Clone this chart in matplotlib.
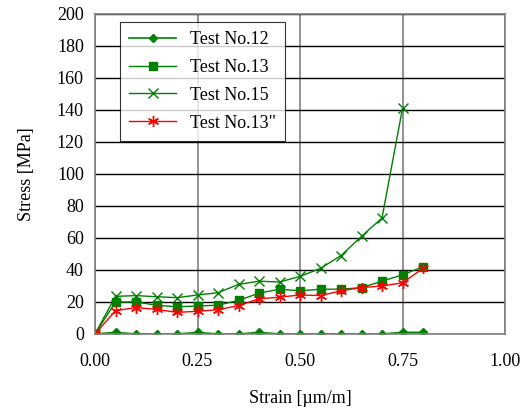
import matplotlib
matplotlib.use('Agg')
import matplotlib.pyplot as plt

plt.rcParams['font.family'] = ['Liberation Serif', 'DejaVu Serif']

strain = [0.00, 0.05, 0.10, 0.15, 0.20, 0.25, 0.30, 0.35, 0.40,
          0.45, 0.50, 0.55, 0.60, 0.65, 0.70, 0.75, 0.80]
test12 = [0, 1, 0, 0, 0, 1, 0, 0, 1, 0, 0, 0, 0, 0, 0, 1, 1]
test13 = [0, 20, 20, 18, 17, 17.5, 18, 21, 25.5, 28, 27, 28, 28, 29, 33, 37, 42]
strain15 = strain[:16]
test15 = [0, 23.5, 24, 23.3, 22.7, 24.4, 25.8, 31, 33, 32.5, 36, 41, 49, 61, 72.5, 141]
test13b = [0, 14.6, 16.5, 15.4, 13.5, 14.2, 15.2, 17.7, 22, 23, 24.4, 24, 27, 29, 30, 32, 41]

green = '#008000'
red = '#ff0000'

fig = plt.figure(figsize=(5.32, 4.16), dpi=100)
ax = fig.add_axes([95/532, 82/416, 410/532, 320/416])

ax.plot(strain, test12, '-D', color=green, ms=4.5, lw=1.2, label='Test No.12')
ax.plot(strain, test13, '-s', color=green, ms=6, lw=1, label='Test No.13')
ax.plot(strain15, test15, '-x', color=green, ms=7, mew=1, lw=1, label='Test No.15')
ax.plot(strain, test13b, '-', marker=(6, 2, 0), color=red, ms=8, mew=1, lw=1, label='Test No.13"')

ax.set_xlim(0, 1)
ax.set_ylim(0, 200)
ax.set_xticks([0, 0.25, 0.5, 0.75, 1.0])
ax.set_xticklabels(['0.00', '0.25', '0.50', '0.75', '1.00'])
ax.set_yticks(range(0, 201, 20))

ax.yaxis.grid(True, color='black', lw=1)
ax.xaxis.grid(True, color='#808080', lw=1.2)
ax.set_axisbelow(True)
for s in ax.spines.values():
    s.set_color('#808080')
    s.set_linewidth(1.2)
ax.tick_params(axis='both', length=0, labelsize=13, pad=8)
ax.tick_params(axis='x', pad=14)

ax.set_xlabel('Strain [\u00b5m/m]', fontsize=13, labelpad=14)
ax.set_ylabel('Stress [MPa]', fontsize=13, labelpad=16)

leg = ax.legend(loc='upper left', bbox_to_anchor=(25/410, 0.975), fontsize=13,
                frameon=True, fancybox=False, edgecolor='black',
                handlelength=2.6, borderpad=0.5, labelspacing=0.6, borderaxespad=0)
leg.get_frame().set_linewidth(0.8)

fig.savefig('out.png', dpi=100)
